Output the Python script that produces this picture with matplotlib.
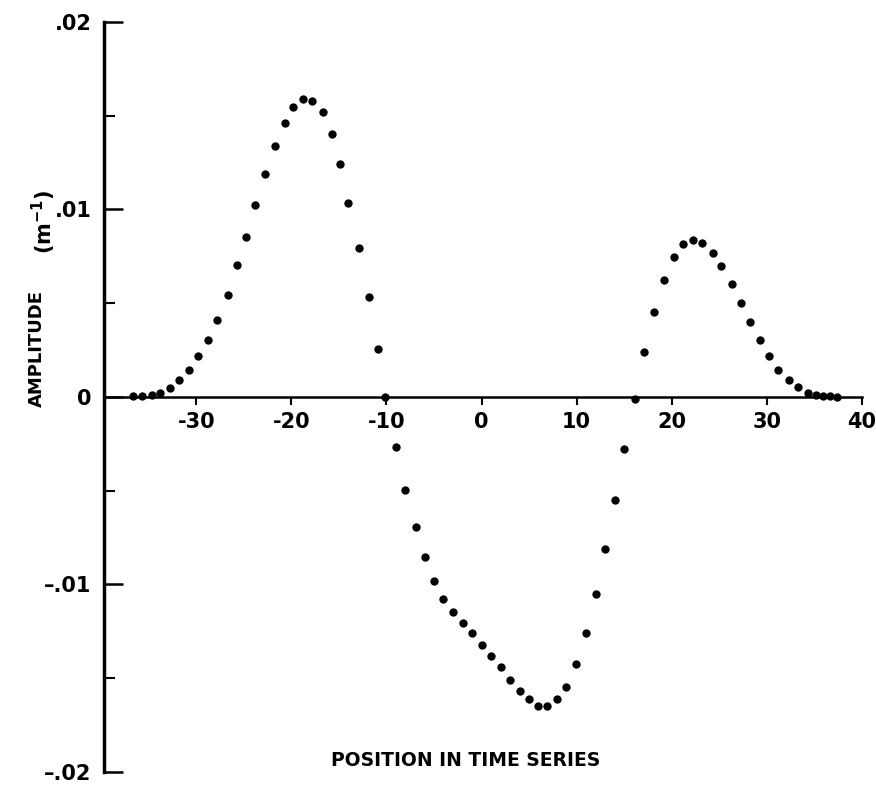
import matplotlib
matplotlib.use("Agg")
import matplotlib.pyplot as plt
from matplotlib.ticker import MultipleLocator

# position in the series and amplitude (m^-1)
position = [-36.7, -35.7, -34.7, -33.8, -32.8, -31.8, -30.8, -29.8, -28.8, -27.8,
            -26.7, -25.7, -24.8, -23.8, -22.8, -21.7, -20.7, -19.8, -18.8, -17.8,
            -16.7, -15.7, -14.9, -14.0, -12.9, -11.8, -10.9, -10.1,
            -9.0, -8.0, -6.9, -5.9, -5.0, -4.1, -3.0, -2.0, -1.0, 0.0,
            1.0, 2.0, 3.0, 4.0, 5.0, 5.9, 6.9, 7.9, 8.9, 9.9,
            11.0, 12.0, 13.0, 14.0, 15.0, 16.1,
            17.1, 18.1, 19.2, 20.2, 21.2, 22.2, 23.2, 24.3, 25.2, 26.3,
            27.3, 28.2, 29.3, 30.2, 31.2, 32.3, 33.3, 34.3, 35.2, 35.9,
            36.6, 37.4]

amplitude = [0.00004, 0.00004, 0.00009, 0.0002, 0.00048, 0.00089, 0.00144, 0.00217, 0.00306, 0.00412,
             0.00546, 0.00704, 0.00855, 0.01024, 0.01189, 0.0134, 0.01461, 0.01548, 0.01591, 0.01579,
             0.0152, 0.01404, 0.01244, 0.01035, 0.00795, 0.00533, 0.00258, 0.0,
             -0.00267, -0.00496, -0.00693, -0.00855, -0.00981, -0.01076, -0.01148, -0.01207, -0.0126, -0.01321,
             -0.0138, -0.0144, -0.01509, -0.0157, -0.01612, -0.0165, -0.0165, -0.01612, -0.01545, -0.01422,
             -0.01257, -0.01049, -0.0081, -0.00551, -0.00279, -0.0001,
             0.00241, 0.00454, 0.00625, 0.00748, 0.00817, 0.00838, 0.00819, 0.00767, 0.00696, 0.00602,
             0.00502, 0.00401, 0.00303, 0.00216, 0.00143, 0.00092, 0.00051, 0.00021, 0.0001, 0.00007,
             0.00003, 0.0]

x_ticks = [-30, -20, -10, 0, 10, 20, 30, 40]
x_ticklabels = ["-30", "-20", "-10", "0", "10", "20", "30", "40"]
y_ticks = [-0.02, -0.01, 0, 0.01, 0.02]
y_ticklabels = ["\u2013.02", "\u2013.01", "0", ".01", ".02"]

plt.rcParams["font.family"] = ["DejaVu Sans"]
plt.rcParams["font.weight"] = "bold"
plt.rcParams["mathtext.default"] = "regular"

fig = plt.figure(figsize=(8.76, 7.88), dpi=100)
ax = fig.add_axes([0.1187, 0.0203, 0.8653, 0.9518])

ax.plot(position, amplitude, "o", color="black", markersize=6, markeredgewidth=0)

ax.set_xlim(-39.7, 40)
ax.set_ylim(-0.02, 0.02)

ax.spines["top"].set_visible(False)
ax.spines["right"].set_visible(False)
ax.spines["bottom"].set_position(("data", 0))
ax.spines["left"].set_linewidth(2.5)
ax.spines["bottom"].set_linewidth(1.8)

ax.set_xticks(x_ticks)
ax.set_xticklabels(x_ticklabels, fontsize=15, fontweight="bold")
ax.set_yticks(y_ticks)
ax.set_yticklabels(y_ticklabels, fontsize=15, fontweight="bold")
ax.yaxis.set_minor_locator(MultipleLocator(0.005))

ax.tick_params(axis="x", direction="out", length=6, width=1.5, pad=5)
ax.tick_params(axis="y", which="major", direction="in", length=14, width=1.8, pad=9)
ax.tick_params(axis="y", which="minor", direction="in", length=8, width=1.5)

fig.text(0.532, 0.035, "POSITION IN TIME SERIES", ha="center", va="center",
         fontsize=13.5, fontweight="bold")
fig.text(0.042, 0.558, "AMPLITUDE", rotation=90, ha="center", va="center",
         fontsize=13, fontweight="bold")
fig.text(0.050, 0.718, "(m$^{-1}$)", rotation=90, ha="center", va="center",
         fontsize=15, fontweight="bold")

fig.savefig("out.png", dpi=100)
